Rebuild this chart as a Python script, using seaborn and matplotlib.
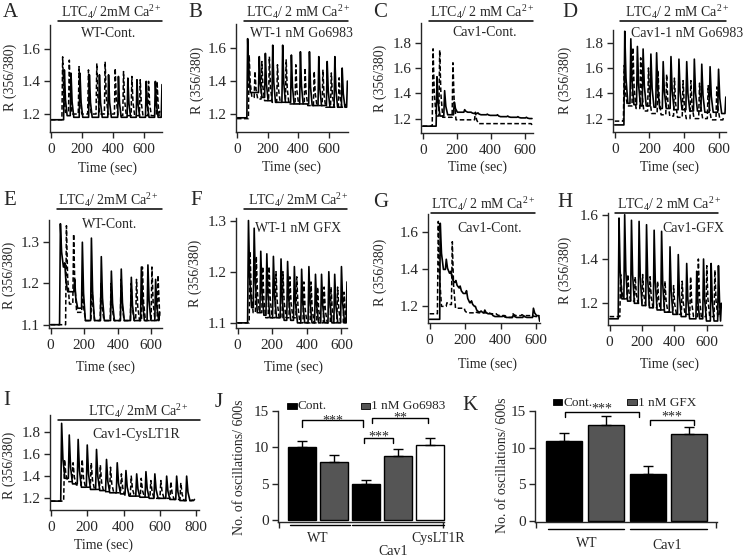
import numpy as np
import pandas as pd
import matplotlib
matplotlib.use("Agg")
import matplotlib.pyplot as plt
import seaborn as sns
from matplotlib.lines import Line2D
from matplotlib.patches import Rectangle

# ====================== DATA ======================
# Each trace: pre = [baseline, onset time]; pk_t / pk_v = peak times / values;
# tr_v = level the trace falls back to after each peak; end = [time, value]
# ---- A: WT-Cont.
A_sol_pre = [1.165, 75]
A_sol_pk_t = [87, 130, 188, 249, 314, 373, 437, 498, 557, 617, 676]
A_sol_pk_v = [1.47, 1.45, 1.45, 1.44, 1.44, 1.44, 1.43, 1.42, 1.41, 1.40, 1.40]
A_sol_tr_v = [1.19, 1.18, 1.18, 1.18, 1.18, 1.18, 1.18, 1.18, 1.18, 1.18, 1.18]
A_sol_end = [719, 1.38]
A_das_pre = [1.165, 70]
A_das_pk_t = [76, 119, 182, 243, 297, 351, 416, 470, 524, 578, 632, 687]
A_das_pk_v = [1.55, 1.53, 1.49, 1.47, 1.51, 1.52, 1.48, 1.46, 1.43, 1.41, 1.40, 1.40]
A_das_tr_v = [1.21, 1.20, 1.20, 1.20, 1.20, 1.20, 1.19, 1.19, 1.19, 1.19, 1.19, 1.19]
A_das_end = [705, 1.22]
# ---- B: WT-1 nM Go6983
B_sol_pre = [1.175, 62]
B_sol_pk_t = [70, 146, 186, 234, 299, 356, 415, 474, 535, 590, 640, 688]
B_sol_pk_v = [1.66, 1.55, 1.57, 1.62, 1.62, 1.56, 1.58, 1.58, 1.55, 1.52, 1.55, 1.48]
B_sol_tr_v = [1.33, 1.30, 1.28, 1.27, 1.27, 1.26, 1.26, 1.25, 1.25, 1.24, 1.24, 1.24]
B_sol_end = [722, 1.40]
B_das_pre = [1.17, 60]
B_das_pk_t = [80, 118, 163, 212, 265, 322, 385, 445, 505, 562, 617, 668]
B_das_pk_v = [1.56, 1.46, 1.52, 1.55, 1.50, 1.53, 1.50, 1.48, 1.46, 1.47, 1.45, 1.42]
B_das_tr_v = [1.30, 1.29, 1.28, 1.27, 1.27, 1.26, 1.26, 1.25, 1.25, 1.24, 1.24, 1.24]
B_das_end = [712, 1.26]
# ---- C: Cav1-Cont.
C_sol_pre = [1.14, 55]
C_sol_pk_t = [84, 129, 186, 247, 285, 325, 380, 440, 500, 560, 610]
C_sol_pk_v = [1.53, 1.42, 1.33, 1.27, 1.25, 1.245, 1.235, 1.23, 1.22, 1.215, 1.21]
C_sol_tr_v = [1.22, 1.23, 1.25, 1.25, 1.24, 1.23, 1.225, 1.215, 1.21, 1.205, 1.20]
C_sol_end = [643, 1.20]
C_das_pre = [1.14, 55]
C_das_pk_t = [61, 100, 178, 310]
C_das_pk_v = [1.75, 1.74, 1.64, 1.25]
C_das_tr_v = [1.22, 1.21, 1.19, 1.16]
C_das_end = [643, 1.15]
# ---- D: Cav1-1 nM Go6983
D_sol_pre = [1.15, 48]
D_sol_pk_t = [58, 93, 131, 164, 209, 242, 280, 325, 371, 416, 460, 503, 551, 600]
D_sol_pk_v = [1.89, 1.83, 1.77, 1.75, 1.71, 1.72, 1.65, 1.69, 1.67, 1.65, 1.67, 1.63, 1.61, 1.59]
D_sol_tr_v = [1.32, 1.31, 1.30, 1.30, 1.29, 1.28, 1.28, 1.27, 1.27, 1.26, 1.26, 1.25, 1.25, 1.24]
D_sol_end = [642, 1.37]
D_das_pre = [1.18, 45]
D_das_pk_t = [55, 105, 150, 195, 250, 300, 345, 395, 440, 490, 540, 590]
D_das_pk_v = [1.62, 1.76, 1.68, 1.60, 1.58, 1.55, 1.52, 1.50, 1.50, 1.48, 1.46, 1.45]
D_das_tr_v = [1.30, 1.28, 1.26, 1.24, 1.23, 1.22, 1.21, 1.20, 1.20, 1.20, 1.19, 1.19]
D_das_end = [630, 1.22]
# ---- E: WT-Cont.
E_sol_pre = [1.10, 50]
E_sol_pk_t = [58, 84, 143, 189, 243, 302, 362, 421, 481, 541, 580, 626]
E_sol_pk_v = [1.345, 1.25, 1.21, 1.30, 1.31, 1.265, 1.23, 1.235, 1.215, 1.24, 1.245, 1.21]
E_sol_tr_v = [1.24, 1.18, 1.14, 1.11, 1.11, 1.11, 1.11, 1.11, 1.11, 1.11, 1.11, 1.11]
E_sol_end = [650, 1.13]
E_das_pre = [1.10, 62]
E_das_pk_t = [94, 137, 190, 245, 300, 360, 420, 480, 512, 547, 604, 640]
E_das_pk_v = [1.34, 1.32, 1.20, 1.21, 1.20, 1.20, 1.21, 1.20, 1.21, 1.24, 1.24, 1.22]
E_das_tr_v = [1.15, 1.13, 1.11, 1.11, 1.11, 1.11, 1.11, 1.11, 1.11, 1.11, 1.11, 1.12]
E_das_end = [655, 1.12]
# ---- F: WT-1 nM GFX
F_sol_pre = [1.10, 54]
F_sol_pk_t = [63, 96, 134, 169, 207, 251, 289, 328, 370, 412, 450, 485, 527, 561, 600]
F_sol_pk_v = [1.30, 1.285, 1.24, 1.235, 1.23, 1.225, 1.22, 1.21, 1.205, 1.21, 1.195, 1.195, 1.20, 1.195, 1.21]
F_sol_tr_v = [1.13, 1.12, 1.115, 1.11, 1.11, 1.105, 1.105, 1.10, 1.10, 1.10, 1.10, 1.10, 1.10, 1.10, 1.10]
F_sol_end = [632, 1.18]
F_das_pre = [1.10, 58]
F_das_pk_t = [72, 108, 145, 182, 222, 262, 302, 342, 383, 424, 462, 500, 540, 578, 615]
F_das_pk_v = [1.24, 1.23, 1.21, 1.21, 1.20, 1.20, 1.19, 1.19, 1.18, 1.18, 1.17, 1.17, 1.17, 1.17, 1.16]
F_das_tr_v = [1.12, 1.12, 1.11, 1.11, 1.11, 1.11, 1.11, 1.10, 1.10, 1.10, 1.10, 1.10, 1.10, 1.10, 1.10]
F_das_end = [630, 1.11]
# ---- G: Cav1-Cont.
G_sol_pre = [1.13, 57]
G_sol_pk_t = [60, 94, 120, 148, 172, 208, 236, 258, 290, 311, 350, 415, 472, 530, 585]
G_sol_pk_v = [1.65, 1.455, 1.39, 1.34, 1.31, 1.285, 1.23, 1.20, 1.175, 1.18, 1.16, 1.15, 1.155, 1.15, 1.19]
G_sol_tr_v = [1.40, 1.38, 1.33, 1.30, 1.27, 1.22, 1.20, 1.17, 1.165, 1.16, 1.145, 1.14, 1.14, 1.14, 1.15]
G_sol_end = [620, 1.12]
G_das_pre = [1.16, 43]
G_das_pk_t = [49, 98, 128, 200, 260, 330, 380, 430, 470, 520, 580]
G_das_pk_v = [1.66, 1.22, 1.55, 1.175, 1.17, 1.17, 1.155, 1.145, 1.16, 1.155, 1.15]
G_das_tr_v = [1.20, 1.21, 1.19, 1.165, 1.165, 1.16, 1.15, 1.14, 1.15, 1.15, 1.145]
G_das_end = [620, 1.15]
# ---- H: Cav1-GFX
H_sol_pre = [1.13, 48]
H_sol_pk_t = [58, 93, 135, 182, 228, 275, 321, 373, 424, 476, 538, 580, 627, 672]
H_sol_pk_v = [1.585, 1.60, 1.575, 1.57, 1.555, 1.53, 1.525, 1.455, 1.42, 1.38, 1.345, 1.40, 1.38, 1.37]
H_sol_tr_v = [1.22, 1.21, 1.20, 1.19, 1.18, 1.17, 1.16, 1.15, 1.14, 1.13, 1.13, 1.12, 1.12, 1.12]
H_sol_end = [690, 1.20]
H_das_pre = [1.14, 45]
H_das_pk_t = [68, 112, 158, 204, 250, 296, 342, 395, 448, 500, 548, 600, 650]
H_das_pk_v = [1.33, 1.33, 1.32, 1.33, 1.32, 1.30, 1.30, 1.28, 1.30, 1.32, 1.40, 1.37, 1.35]
H_das_tr_v = [1.22, 1.21, 1.20, 1.19, 1.18, 1.17, 1.16, 1.15, 1.15, 1.14, 1.14, 1.14, 1.14]
H_das_end = [680, 1.20]
# ---- I: Cav1-CysLT1R
I_sol_pre = [1.175, 50]
I_sol_pk_t = [59, 101, 150, 200, 251, 306, 365, 413, 472, 523, 572, 637, 692, 747]
I_sol_pk_v = [1.875, 1.77, 1.73, 1.68, 1.64, 1.55, 1.52, 1.45, 1.42, 1.44, 1.42, 1.40, 1.40, 1.40]
I_sol_tr_v = [1.38, 1.33, 1.30, 1.28, 1.27, 1.25, 1.24, 1.22, 1.21, 1.20, 1.20, 1.19, 1.18, 1.18]
I_sol_end = [790, 1.19]
I_das_pre = [1.175, 52]
I_das_pk_t = [75, 122, 172, 222, 272, 328, 388, 442, 497, 550, 605, 660, 715]
I_das_pk_v = [1.55, 1.52, 1.55, 1.52, 1.50, 1.48, 1.42, 1.40, 1.38, 1.36, 1.36, 1.35, 1.34]
I_das_tr_v = [1.35, 1.32, 1.30, 1.28, 1.26, 1.25, 1.23, 1.22, 1.21, 1.20, 1.20, 1.19, 1.18]
I_das_end = [780, 1.19]

# ---- J bar chart
J_groups = ["WT Cont.", "WT 1 nM Go6983", "Cav1 Cont.", "Cav1 1 nM Go6983", "Cav1 CysLT1R"]
J_means = [10.0, 8.0, 5.0, 8.8, 10.3]
J_errs = [0.9, 0.9, 0.6, 1.0, 1.0]
# ---- K bar chart
K_groups = ["WT Cont.", "WT 1 nM GFX", "Cav1 Cont.", "Cav1 1 nM GFX"]
K_means = [10.9, 13.1, 6.4, 11.9]
K_errs = [1.1, 1.2, 1.1, 0.9]

# ============================ STYLE / LAYOUT ============================
sns.set_style("ticks")
plt.rcParams['font.family'] = ['Liberation Serif', 'DejaVu Serif']
plt.rcParams['mathtext.fontset'] = 'stix'
plt.rcParams['axes.linewidth'] = 1.0

W, H = 745, 559
fig = plt.figure(figsize=(W / 100, H / 100), dpi=100)


def FX(x):
    return x / W


def FY(y):
    return 1 - y / H


def add_ax(l, t, r, b):
    return fig.add_axes([l / W, 1 - b / H, (r - l) / W, (b - t) / H])


def ftext(x, y, s, **kw):
    fig.text(FX(x), FY(y), s, **kw)


def fline(x0, x1, y0, y1, lw=1.0):
    fig.add_artist(Line2D([FX(x0), FX(x1)], [FY(y0), FY(y1)], color='black', lw=lw,
                          transform=fig.transFigure))


RISE, MID, FALL = 5, 7, 18


def build(pre, pk_t, pk_v, tr_v, end):
    base, t0 = pre
    ts, vs = [0, t0], [base, base]
    level = base
    for i, (tp, vp, tv) in enumerate(zip(pk_t, pk_v, tr_v)):
        if tp - RISE > ts[-1]:
            ts.append(tp - RISE); vs.append(level)
        ts.append(tp); vs.append(vp)
        nxt = pk_t[i + 1] - RISE if i + 1 < len(pk_t) else end[0] - RISE
        if tp + MID < nxt:
            ts.append(tp + MID); vs.append(tv + 0.35 * (vp - tv))
        if tp + FALL < nxt:
            ts.append(tp + FALL); vs.append(tv)
        level = tv
    if end[0] - RISE > ts[-1]:
        ts.append(end[0] - RISE); vs.append(level)
    ts.append(end[0]); vs.append(end[1])
    return pd.DataFrame({"t": ts, "R": vs})


def T(mm):
    return r"$\mathregular{LTC_4/\ " + mm + r"\ Ca^{2+}}$"


g = globals()
trace_layout = [
    # key, box, xlim, ylim, yticks, xticks, title mm, title cx, line(x0,x1,y), label, lab x, lab y, lab ha, letter (x,y), xlabel(x,y), ylabel(x,y)
    ("A", (50, 25, 162, 132), (-6, 719), (1.09, 1.745), [1.2, 1.4, 1.6], [0, 200, 400, 600], "2mM", 111, (58, 162, 21), "WT-Cont.", 109, 37, 'center', (3, 17), (107, 168), (10, 77)),
    ("B", (236, 24, 348, 132), (-6, 726), (1.088, 1.75), [1.2, 1.4, 1.6], [0, 200, 400, 600], r"2\ mM", 298, (244, 348, 21), "WT-1 nM Go6983", 250, 37, 'left', (188, 17), (292, 167), (197, 80)),
    ("C", (421, 23, 533, 133), (-10, 649), (1.086, 1.954), [1.2, 1.4, 1.6, 1.8], [0, 200, 400, 600], r"2\ mM", 482, (429, 533, 21), "Cav1-Cont.", 452, 36, 'left', (373, 17), (477, 167), (380, 78)),
    ("D", (613, 30, 726, 132), (-10, 643), (1.094, 1.90), [1.2, 1.4, 1.6, 1.8], [0, 200, 400, 600], r"2\ mM", 677, (620, 726, 21), "Cav1-1 nM Go6983", 631, 37, 'left', (562, 17), (670, 167), (565, 80)),
    ("E", (49, 220, 162, 328), (-10, 664), (1.092, 1.354), [1.1, 1.2, 1.3], [0, 200, 400, 600], "2mM", 108, (57, 162, 209), "WT-Cont.", 82, 228, 'left', (3, 205), (106, 367), (9, 275)),
    ("F", (236, 218, 347, 328), (-9, 632), (1.09, 1.305), [1.1, 1.2, 1.3], [0, 200, 400, 600], "2mM", 298, (244, 347, 209), "WT-1 nM GFX", 255, 232, 'left', (190, 205), (293, 367), (195, 273)),
    ("G", (428, 214, 540, 323), (-9, 622), (1.11, 1.70), [1.2, 1.4, 1.6], [0, 200, 400, 600], r"2\ mM", 483, (431, 535, 213), "Cav1-Cont.", 457, 232, 'left', (373, 207), (487, 364), (380, 272)),
    ("H", (608, 213, 722, 325), (-10, 694), (1.102, 1.608), [1.2, 1.4, 1.6], [0, 200, 400, 600], r"2\ mM", 669, (615, 718, 213), "Cav1-GFX", 662, 232, 'left', (557, 207), (670, 364), (565, 270)),
    ("I", (50, 415, 199, 510), (-5, 815), (1.095, 1.95), [1.2, 1.4, 1.6, 1.8], [0, 200, 400, 600, 800], "2mM", 138, (58, 200, 420), "Cav1-CysLT1R", 92, 438, 'left', (3, 405), (103, 545), (9, 465)),
]

TICK_FS = 11
LAB_FS = 10

for (key, box, xlim, ylim, yt, xt, mm, tcx, ln, lab, lx, ly, lha, let, xl, yl) in trace_layout:
    ax = add_ax(*box)
    das = build(g[key + "_das_pre"], g[key + "_das_pk_t"], g[key + "_das_pk_v"],
                g[key + "_das_tr_v"], g[key + "_das_end"])
    sol = build(g[key + "_sol_pre"], g[key + "_sol_pk_t"], g[key + "_sol_pk_v"],
                g[key + "_sol_tr_v"], g[key + "_sol_end"])
    sns.lineplot(data=das, x="t", y="R", sort=False, estimator=None, ax=ax,
                 color='black', lw=1.1, linestyle=(0, (3, 1.6)))
    sns.lineplot(data=sol, x="t", y="R", sort=False, estimator=None, ax=ax,
                 color='black', lw=1.2)
    ax.set_xlim(*xlim)
    ax.set_ylim(*ylim)
    ax.set_xticks(xt)
    ax.set_yticks(yt)
    ax.set_xticklabels([str(v) for v in xt])
    ax.set_yticklabels([f"{v:.1f}" for v in yt])
    ax.set_xlabel("")
    ax.set_ylabel("")
    ax.tick_params(direction='out', length=4.5, width=1, labelsize=TICK_FS)
    ax.tick_params(axis='x', pad=3.5)
    ax.tick_params(axis='y', pad=2)
    sns.despine(ax=ax)
    # stimulus bar and titles
    fline(ln[0], ln[1], ln[2], ln[2], lw=1.1)
    ftext(tcx, ln[2] - 4, T(mm), ha='center', va='baseline', fontsize=10)
    ftext(lx, ly, lab, ha=lha, va='baseline', fontsize=10)
    ftext(let[0], let[1], key, ha='left', va='baseline', fontsize=15)
    ftext(xl[0], xl[1], "Time (sec)", ha='center', va='center', fontsize=LAB_FS)
    ftext(yl[0], yl[1], "R (356/380)", ha='center', va='center', fontsize=LAB_FS, rotation=90)


# ============================ BAR CHARTS ============================
def bar_panel(box, groups, means, errs, colors, xlim, width):
    ax = add_ax(*box)
    df = pd.DataFrame({"group": groups, "value": means})
    sns.barplot(data=df, x="group", y="value", hue="group", palette=colors, legend=False,
                edgecolor='black', linewidth=1.0, width=width, saturation=1, ax=ax)
    for p in ax.patches:
        p.set_edgecolor('black')
        p.set_linewidth(1.0)
        p.set_clip_on(False)
    ax.errorbar(np.arange(len(means)), means, yerr=[np.zeros(len(means)), errs], fmt='none',
                ecolor='black', elinewidth=1.0, capsize=3.5, capthick=1.0, zorder=5)
    ax.set_xlim(*xlim)
    ax.set_ylim(-0.15, 15)
    ax.set_yticks([0, 5, 10, 15])
    ax.set_yticklabels(["0", "5", "10", "15"])
    ax.set_xticks([xlim[0] + 0.02, xlim[1] - 0.02])
    ax.set_xticklabels(["", ""])
    ax.set_xlabel("")
    ax.set_ylabel("")
    ax.tick_params(direction='out', length=4.5, width=1, labelsize=TICK_FS, pad=2)
    sns.despine(ax=ax)
    return ax


def bracket(ax, x0, x1, y, drop, stars, sy):
    ax.plot([x0, x0, x1, x1], [y - drop, y, y, y - drop], color='black', lw=1.0, clip_on=False)
    ax.text((x0 + x1) / 2, sy, stars, ha='center', va='baseline', fontsize=10, clip_on=False)


GREY = '#555555'
axJ = bar_panel((278, 411, 444, 521.5), J_groups, J_means, J_errs,
                ['black', GREY, 'black', GREY, 'white'], (-0.77, 4.45), 0.88)
bracket(axJ, 0.0, 1.9, 13.75, 0.9, "***", 13.2)
bracket(axJ, 1.95, 2.85, 11.3, 0.7, "***", 11.0)
bracket(axJ, 2.2, 3.95, 14.0, 0.7, "**", 13.5)

axK = bar_panel((535, 411, 717, 522), K_groups, K_means, K_errs,
                ['black', GREY, 'black', GREY], (-0.69, 3.66), 0.86)
bracket(axK, 0.02, 1.8, 14.9, 0.7, "***", 14.75)
bracket(axK, 2.05, 3.1, 13.8, 0.7, "***", 13.65)

# legends (J)
fig.add_artist(Rectangle((FX(287), FY(409)), 10 / W, 6.5 / H, transform=fig.transFigure,
                         facecolor='black', edgecolor='black', lw=0.6))
ftext(298, 409, "Cont.", ha='left', va='baseline', fontsize=9.5)
fig.add_artist(Rectangle((FX(361), FY(409)), 9 / W, 6.5 / H, transform=fig.transFigure,
                         facecolor=GREY, edgecolor='black', lw=0.6))
ftext(371, 409, "1 nM Go6983", ha='left', va='baseline', fontsize=9.5)
# legends (K)
fig.add_artist(Rectangle((FX(553), FY(405)), 9 / W, 6.5 / H, transform=fig.transFigure,
                         facecolor='black', edgecolor='black', lw=0.6))
ftext(563, 406, "Cont.", ha='left', va='baseline', fontsize=9.5)
fig.add_artist(Rectangle((FX(627), FY(405)), 10 / W, 6.5 / H, transform=fig.transFigure,
                         facecolor=GREY, edgecolor='black', lw=0.6))
ftext(638, 406, "1 nM GFX", ha='left', va='baseline', fontsize=9.5)

# group lines and labels
fline(290, 350, 525, 525)
fline(352, 444, 525, 525)
ftext(318, 542, "WT", ha='center', va='baseline', fontsize=10)
ftext(438, 542, "CysLT1R", ha='center', va='baseline', fontsize=10)
ftext(393, 555, "Cav1", ha='center', va='baseline', fontsize=10)
fline(548, 624, 529, 529)
fline(630, 707, 529, 529)
ftext(587, 547, "WT", ha='center', va='baseline', fontsize=10)
ftext(667, 549, "Cav1", ha='center', va='baseline', fontsize=10)

# y labels and letters
ftext(240, 467, "No. of oscillations/ 600s", ha='center', va='center', rotation=90, fontsize=LAB_FS)
ftext(502, 465, "No. of oscillations/ 600s", ha='center', va='center', rotation=90, fontsize=LAB_FS)
ftext(215, 407, "J", ha='left', va='baseline', fontsize=15)
ftext(462, 410, "K", ha='left', va='baseline', fontsize=15)

fig.savefig("out.png", dpi=100)
